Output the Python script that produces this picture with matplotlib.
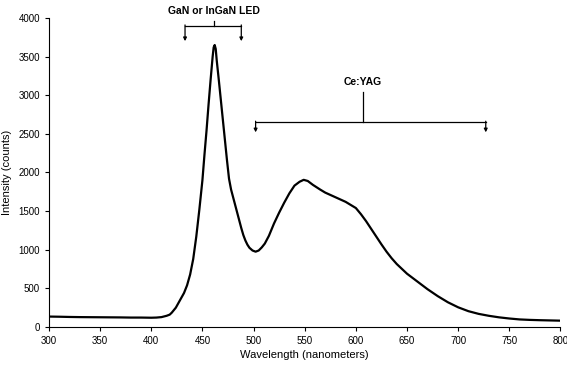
import numpy as np
import matplotlib.pyplot as plt

plt.rcParams['font.family'] = ['Liberation Sans', 'DejaVu Sans']

# emission spectrum
wavelength = [300, 310, 320, 330, 340, 350, 360, 370, 380, 390, 400, 405, 410, 415,
              418, 420, 424, 428, 432, 435, 438, 441, 444, 447, 450, 452, 454, 456,
              458, 460, 461, 462, 463, 464, 466, 468, 470, 472, 474, 476, 478, 480,
              482, 484, 486, 488, 490, 492, 494, 496, 499, 502, 505, 508, 511, 515,
              520, 525, 530, 535, 540, 545, 549, 553, 558, 565, 570, 575, 580, 585,
              590, 595, 600, 605, 610, 615, 620, 625, 630, 635, 640, 650, 660, 670,
              680, 690, 700, 710, 720, 730, 740, 750, 760, 770, 780, 790, 800]
intensity = [135, 133, 130, 128, 127, 126, 125, 124, 122, 122, 120, 122, 128, 145,
             160, 185, 250, 345, 440, 540, 680, 880, 1170, 1520, 1900, 2230, 2540, 2880,
             3200, 3500, 3620, 3650, 3600, 3450, 3200, 2940, 2680, 2420, 2160, 1920, 1780, 1680,
             1580, 1480, 1380, 1280, 1190, 1120, 1065, 1025, 990, 975, 990, 1030, 1080, 1180,
             1340, 1480, 1610, 1730, 1830, 1880, 1905, 1890, 1840, 1780, 1740, 1710, 1680, 1650,
             1620, 1580, 1540, 1460, 1370, 1270, 1170, 1070, 975, 890, 815, 690, 590, 490,
             400, 320, 255, 205, 170, 145, 125, 110, 98, 92, 88, 85, 82]

x_ticks = [300, 350, 400, 450, 500, 550, 600, 650, 700, 750, 800]
y_ticks = [0, 500, 1000, 1500, 2000, 2500, 3000, 3500, 4000]

fig = plt.figure(figsize=(5.67, 3.67), dpi=100)
ax = fig.add_axes([0.0864, 0.109, 0.902, 0.842])

ax.plot(wavelength, intensity, color='k', linewidth=1.6)

ax.set_xlim(300, 800)
ax.set_ylim(0, 4000)
ax.set_xticks(x_ticks)
ax.set_yticks(y_ticks)
ax.tick_params(labelsize=7, length=3, width=0.8, direction='out', colors='k')
ax.spines['top'].set_visible(False)
ax.spines['right'].set_visible(False)
ax.spines['left'].set_linewidth(0.8)
ax.spines['bottom'].set_linewidth(0.8)

ax.set_xlabel('Wavelength (nanometers)', fontsize=8, labelpad=3)
ax.set_ylabel('Intensity (counts)', fontsize=8, labelpad=5)

# bracket helper: horizontal bar, centre stem, two arrows pointing down
def bracket(x0, x1, xc, y_bar, y_stem, y_tip):
    ax.plot([x0, x1], [y_bar, y_bar], color='k', lw=0.9)
    ax.plot([xc, xc], [y_bar, y_stem], color='k', lw=0.9)
    for xa in (x0, x1):
        ax.annotate('', xy=(xa, y_tip), xytext=(xa, y_bar + 15),
                    arrowprops=dict(arrowstyle='-|>', lw=0.9, color='k',
                                    mutation_scale=5, shrinkA=0, shrinkB=0))

bracket(433, 488, 461, 3895, 3960, 3700)
ax.text(461, 4030, 'GaN or InGaN LED', ha='center', va='bottom', fontsize=7.5,
        fontweight='bold')

bracket(502, 727, 607, 2649, 3045, 2520)
ax.text(607, 3110, 'Ce:YAG', ha='center', va='bottom', fontsize=7.5,
        fontweight='bold')

fig.savefig('out.png', dpi=100)
